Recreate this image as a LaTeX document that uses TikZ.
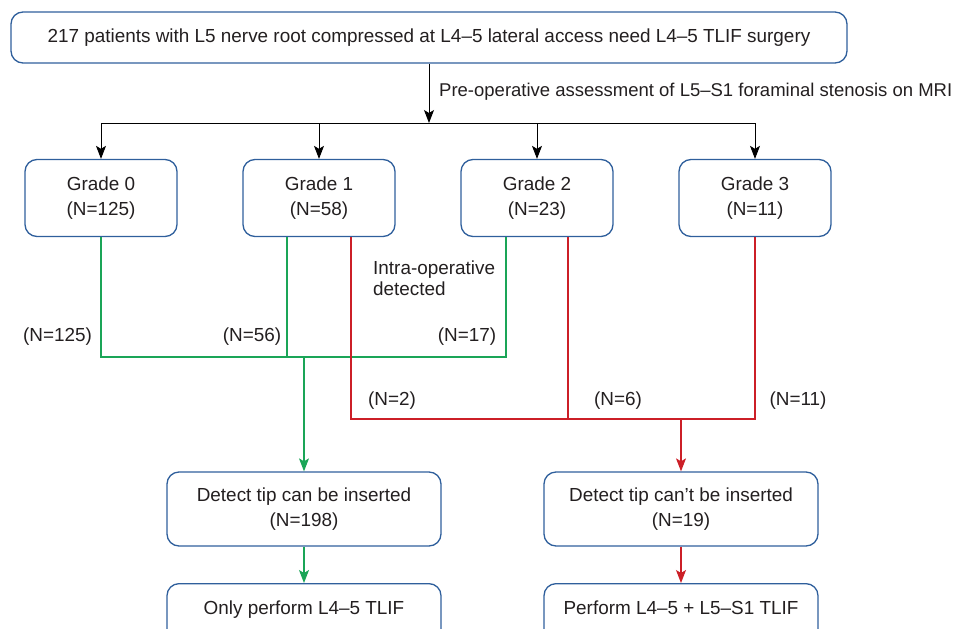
\documentclass[tikz,border=0pt]{standalone}
\usepackage{fontspec}
\setmainfont{Liberation Sans}
\usetikzlibrary{arrows.meta}
\definecolor{boxblue}{HTML}{2F5F9C}
\definecolor{flowgreen}{HTML}{1AA557}
\definecolor{flowred}{HTML}{CC1F27}
\definecolor{inkgray}{HTML}{231F20}

\begin{document}
\begin{tikzpicture}[x=1pt,y=-1pt,font=\fontsize{18.9}{24.5}\selectfont,text=inkgray,
    >={Stealth[length=13pt,width=10pt,inset=3pt]}]

    \tikzstyle{flowbox}=[rectangle,rounded corners=12pt,draw=boxblue,line width=1.3pt,align=center,inner sep=0pt]
    \tikzstyle{gradebox}=[flowbox,minimum width=152pt,minimum height=77pt]
    \tikzstyle{resultbox}=[flowbox,minimum width=274pt,minimum height=74pt]
    \tikzstyle{count}=[inner sep=0pt]
    \tikzstyle{blackline}=[draw=black,line width=0.95pt]
    \tikzstyle{greenline}=[draw=flowgreen,line width=1.1pt]
    \tikzstyle{redline}=[draw=flowred,line width=1.1pt]

    \useasboundingbox (0,0) rectangle (959,629);

    \node[flowbox,minimum width=836pt,minimum height=51pt] (patients) at (429,37.5)
        {217 patients with L5 nerve root compressed at L4–5 lateral access need L4–5 TLIF surgery};

    \node[gradebox] (grade0) at (101,198) {Grade 0\\(N=125)};
    \node[gradebox] (grade1) at (319,198) {Grade 1\\(N=58)};
    \node[gradebox] (grade2) at (537,198) {Grade 2\\(N=23)};
    \node[gradebox] (grade3) at (755,198) {Grade 3\\(N=11)};

    \node[resultbox] (can)  at (304,509) {Detect tip can be inserted\\(N=198)};
    \node[resultbox] (cant) at (681,509) {Detect tip can’t be inserted\\(N=19)};

    \node[flowbox,minimum width=274pt,minimum height=62pt,anchor=north,
          text height=13pt,text depth=14pt] (only) at (304,583) {Only perform L4–5 TLIF};
    \node[flowbox,minimum width=274pt,minimum height=62pt,anchor=north,
          text height=13pt,text depth=14pt] (both) at (681,583) {Perform L4–5 + L5–S1 TLIF};

    \coordinate (split) at (429,123);
    \coordinate (gbus)  at (304,357);
    \coordinate (rbus)  at (681,419);

    \draw[blackline,->] (patients.south) -- (split);
    \node[count,anchor=west,font=\fontsize{18.5}{24.5}\selectfont] (assess) at (439,92)
        {Pre-operative assessment of L5–S1 foraminal stenosis on MRI};
    \draw[blackline] (grade0.north |- split) -- (grade3.north |- split);
    \foreach \g in {grade0,grade1,grade2,grade3}
        \draw[blackline,->] (\g.north |- split) -- (\g.north);

    \draw[greenline] (grade0.south) -- (grade0.south |- gbus)
                     -- ([xshift=-31pt]grade2.south |- gbus) -- ([xshift=-31pt]grade2.south);
    \draw[greenline] ([xshift=-32pt]grade1.south) -- ([xshift=-32pt]grade1.south |- gbus);
    \draw[greenline,->] (gbus) -- (can.north);
    \draw[greenline,->] (can.south) -- (only.north);

    \draw[redline] ([xshift=32pt]grade1.south) -- ([xshift=32pt]grade1.south |- rbus)
                   -- (grade3.south |- rbus) -- (grade3.south);
    \draw[redline] ([xshift=31pt]grade2.south) -- ([xshift=31pt]grade2.south |- rbus);
    \draw[redline,->] (rbus) -- (cant.north);
    \draw[redline,->] (cant.south) -- (both.north);

    \node[count,anchor=west,align=left,font=\fontsize{18.9}{21}\selectfont] (intra) at (373,278)
        {Intra-operative\\detected};
    \node[count] (n125) at (57.5,337) {(N=125)};
    \node[count] (n56)  at (252,337)  {(N=56)};
    \node[count] (n17)  at (467,337)  {(N=17)};
    \node[count] (n2)   at (392,401)  {(N=2)};
    \node[count] (n6)   at (618,401)  {(N=6)};
    \node[count] (n11)  at (798,401)  {(N=11)};
\end{tikzpicture}
\end{document}
